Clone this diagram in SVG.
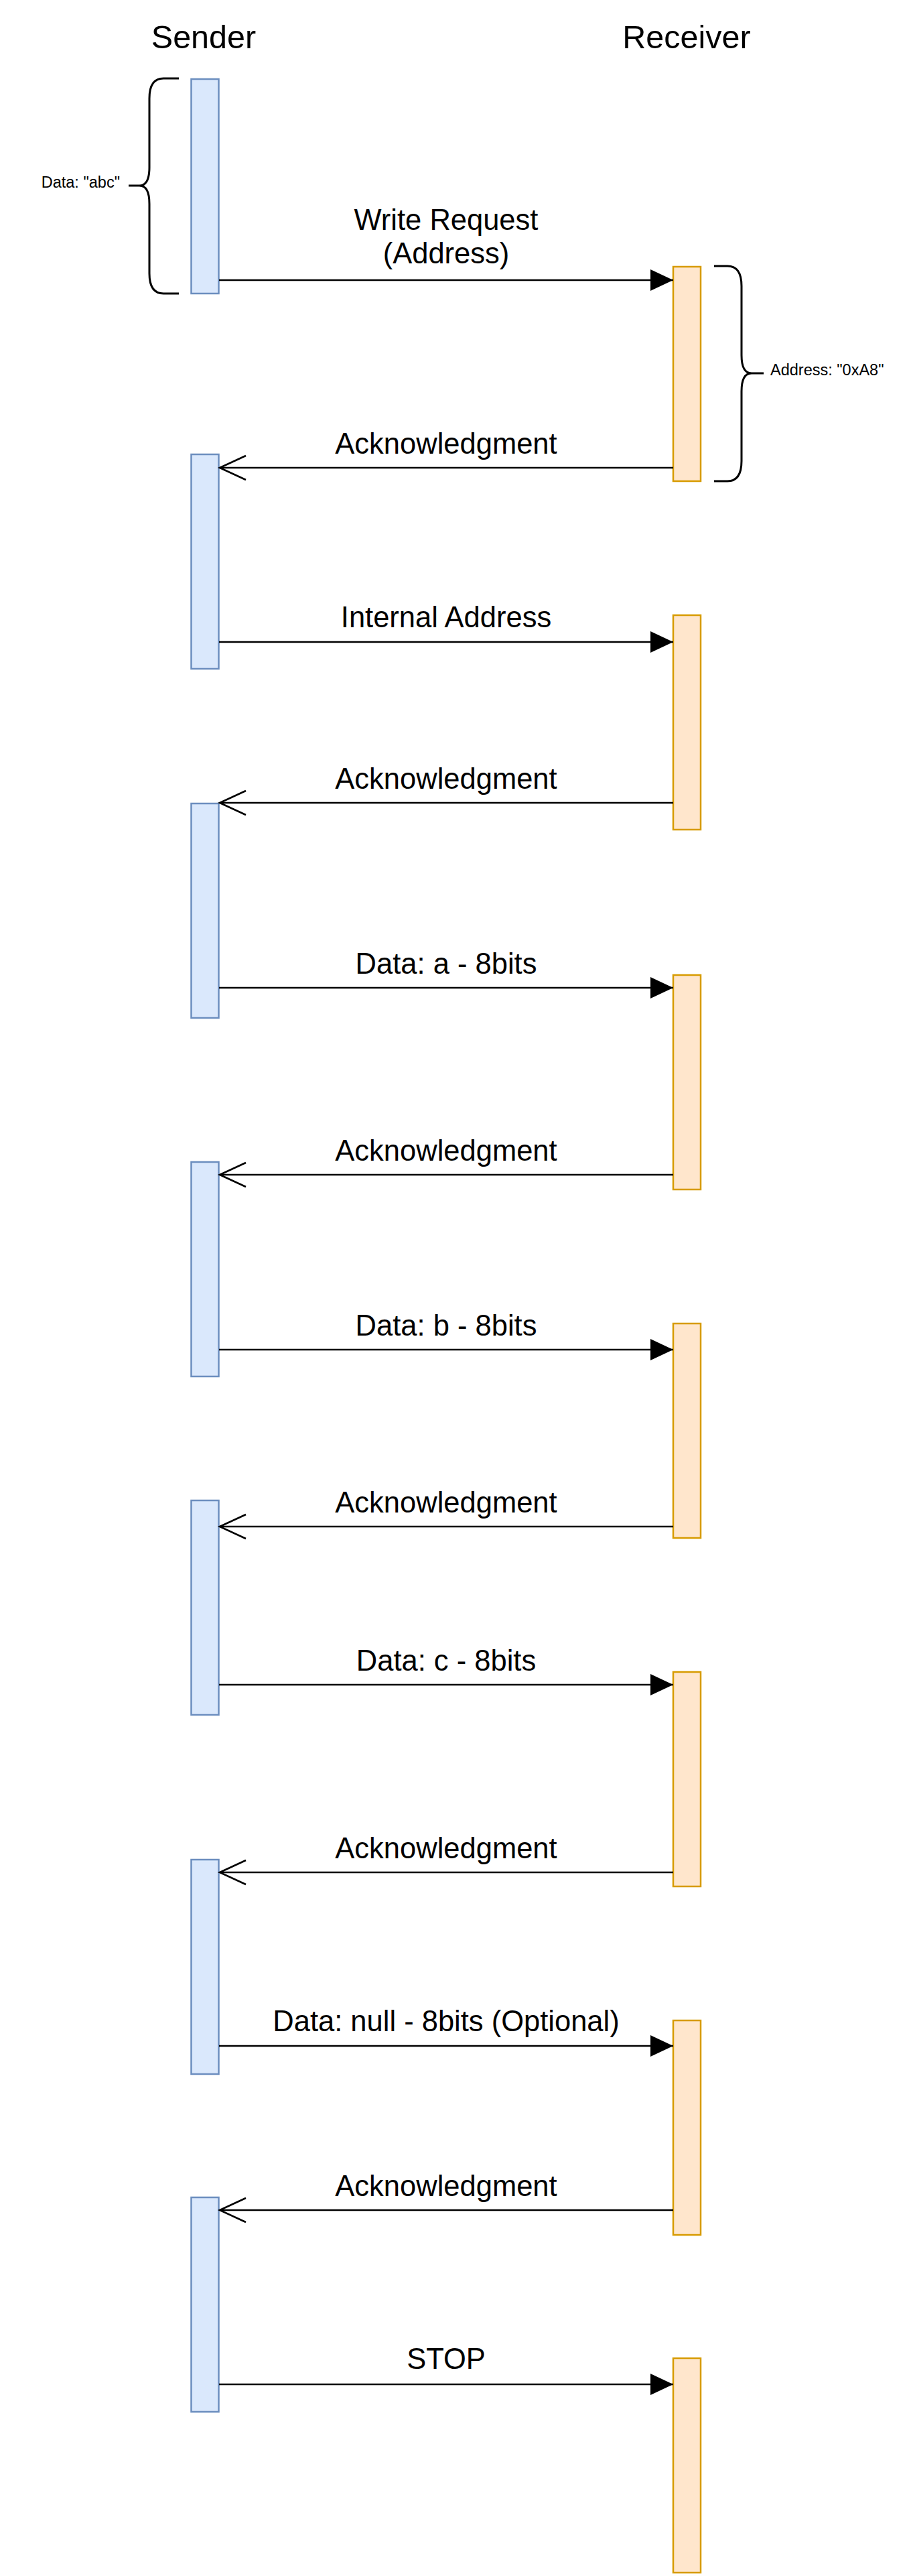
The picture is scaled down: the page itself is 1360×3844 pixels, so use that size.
<svg xmlns="http://www.w3.org/2000/svg" width="1360" height="3844" viewBox="0 0 1360 3844">
<defs>
<style>
text{font-family:"Liberation Sans",Arial,Helvetica,sans-serif;fill:#000}
.head{font-size:48.5px;text-anchor:middle}
.lbl{font-size:43.5px;text-anchor:middle}
.small{font-size:23.5px}
.snd{fill:#dae8fc;stroke:#6c8ebf;stroke-width:2.5}
.rcv{fill:#ffe6cc;stroke:#d79b00;stroke-width:2.5}
.msg{stroke:#000;stroke-width:2.6;fill:none}
.brace{stroke:#000;stroke-width:3;fill:none}
</style>
<marker id="block" markerUnits="userSpaceOnUse" markerWidth="36" markerHeight="34" refX="34" refY="16" orient="auto" overflow="visible">
<path d="M0,0 L34,16 L0,32 Z" fill="#000"/>
</marker>
<marker id="open" markerUnits="userSpaceOnUse" markerWidth="42" markerHeight="38" refX="39" refY="18" orient="auto" overflow="visible">
<path d="M0,0 L39,18 L0,36" fill="none" stroke="#000" stroke-width="2.6"/>
</marker>
</defs>
<rect width="1360" height="3844" fill="#fff"/>

<g id="title-sender"><text class="head" x="304" y="72">Sender</text></g>
<g id="title-receiver"><text class="head" x="1025" y="72">Receiver</text></g>

<g id="sender-boxes">
<rect id="s1" class="snd" x="285.5" y="118" width="41" height="320"/>
<rect id="s2" class="snd" x="285.5" y="678" width="41" height="320"/>
<rect id="s3" class="snd" x="285.5" y="1199" width="41" height="320"/>
<rect id="s4" class="snd" x="285.5" y="1734" width="41" height="320"/>
<rect id="s5" class="snd" x="285.5" y="2239" width="41" height="320"/>
<rect id="s6" class="snd" x="285.5" y="2775" width="41" height="320"/>
<rect id="s7" class="snd" x="285.5" y="3279" width="41" height="320"/>
</g>

<g id="receiver-boxes">
<rect id="r1" class="rcv" x="1005" y="398" width="41" height="320"/>
<rect id="r2" class="rcv" x="1005" y="918" width="41" height="320"/>
<rect id="r3" class="rcv" x="1005" y="1455" width="41" height="320"/>
<rect id="r4" class="rcv" x="1005" y="1975" width="41" height="320"/>
<rect id="r5" class="rcv" x="1005" y="2495" width="41" height="320"/>
<rect id="r6" class="rcv" x="1005" y="3015" width="41" height="320"/>
<rect id="r7" class="rcv" x="1005" y="3519" width="41" height="320"/>
</g>

<g id="brace-data">
<path class="brace" d="M267,117 L244,117 Q223,117 223,147 L223,250 Q223,277 208,277 L192,277 M208,277 Q223,277 223,304 L223,408 Q223,438 244,438 L267,438"/>
<text class="small" x="179" y="280" text-anchor="end">Data: "abc"</text>
</g>

<g id="brace-address">
<path class="brace" d="M1066,397 L1086,397 Q1107,397 1107,427 L1107,530 Q1107,557 1122,557 L1140,557 M1122,557 Q1107,557 1107,584 L1107,688 Q1107,718 1086,718 L1066,718"/>
<text class="small" x="1150" y="560">Address: "0xA8"</text>
</g>

<g id="connectors">
<line class="msg" x1="327" y1="418" x2="1005" y2="418" marker-end="url(#block)"/>
<line class="msg" x1="1005" y1="698" x2="328" y2="698" marker-end="url(#open)"/>
<line class="msg" x1="327" y1="958" x2="1005" y2="958" marker-end="url(#block)"/>
<line class="msg" x1="1005" y1="1198" x2="328" y2="1198" marker-end="url(#open)"/>
<line class="msg" x1="327" y1="1474" x2="1005" y2="1474" marker-end="url(#block)"/>
<line class="msg" x1="1005" y1="1753" x2="328" y2="1753" marker-end="url(#open)"/>
<line class="msg" x1="327" y1="2014" x2="1005" y2="2014" marker-end="url(#block)"/>
<line class="msg" x1="1005" y1="2278" x2="328" y2="2278" marker-end="url(#open)"/>
<line class="msg" x1="327" y1="2514" x2="1005" y2="2514" marker-end="url(#block)"/>
<line class="msg" x1="1005" y1="2794" x2="328" y2="2794" marker-end="url(#open)"/>
<line class="msg" x1="327" y1="3053" x2="1005" y2="3053" marker-end="url(#block)"/>
<line class="msg" x1="1005" y1="3298" x2="328" y2="3298" marker-end="url(#open)"/>
<line class="msg" x1="327" y1="3558" x2="1005" y2="3558" marker-end="url(#block)"/>
</g>

<g id="labels">
<text class="lbl" x="666" y="343">Write Request</text>
<text class="lbl" x="666" y="393">(Address)</text>
<text class="lbl" x="666" y="677">Acknowledgment</text>
<text class="lbl" x="666" y="936">Internal Address</text>
<text class="lbl" x="666" y="1177">Acknowledgment</text>
<text class="lbl" x="666" y="1453">Data: a - 8bits</text>
<text class="lbl" x="666" y="1732">Acknowledgment</text>
<text class="lbl" x="666" y="1993">Data: b - 8bits</text>
<text class="lbl" x="666" y="2257">Acknowledgment</text>
<text class="lbl" x="666" y="2493">Data: c - 8bits</text>
<text class="lbl" x="666" y="2773">Acknowledgment</text>
<text class="lbl" x="666" y="3031">Data: null - 8bits (Optional)</text>
<text class="lbl" x="666" y="3277">Acknowledgment</text>
<text class="lbl" x="666" y="3535">STOP</text>
</g>
</svg>
